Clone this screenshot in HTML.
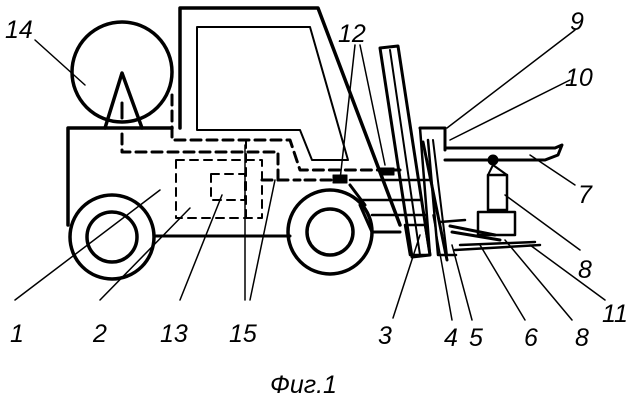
<!DOCTYPE html>
<html><head><meta charset="utf-8"><style>
html,body{margin:0;padding:0;background:#fff}
svg{display:block}
text{font-family:"Liberation Sans",sans-serif;font-style:italic;font-size:25px;fill:#000}
</style></head><body>
<svg width="630" height="401" viewBox="0 0 630 401" xmlns="http://www.w3.org/2000/svg">
<g fill="none" stroke="#000" stroke-linecap="round" stroke-linejoin="round">
<path d="M68 225 V128 H172" stroke-width="3.5"/>
<path d="M180 128 V8 H318 L400 225" stroke-width="3.5"/>
<path d="M197 130 V27 H310 L348 160 H312 L300 130 Z" stroke-width="2"/>
<path d="M155 236 H290" stroke-width="3"/>
<path d="M360 205 L372 232 H400" stroke-width="3"/>
<circle cx="122" cy="72" r="50" stroke-width="3.5"/>
<path d="M105 128 L122 73 L142 128" stroke-width="3.5"/>
<path d="M122 103 V118" stroke-width="3"/>
<circle cx="112" cy="237" r="42" stroke-width="3.5"/>
<circle cx="112" cy="237" r="25" stroke-width="3.5"/>
<circle cx="330" cy="232" r="42" stroke-width="3.5"/>
<circle cx="330" cy="232" r="23" stroke-width="3.5"/>
<g stroke-width="3" stroke-dasharray="10 6">
<path d="M172 95 V140 H290 L300 170 H400"/>
<path d="M122 134 V152 H278 V180"/>
<path d="M262 180 H300 M305 180 H340"/>
</g>
<g stroke-width="2" stroke-dasharray="8 6">
<rect x="176" y="160" width="86" height="58"/>
<rect x="211" y="174" width="34" height="26"/>
<path d="M246 140 V218"/>
</g>
<rect x="333" y="175" width="14" height="8" fill="#000"/>
<rect x="380" y="168" width="14" height="7" fill="#000"/>
<path d="M350 185 L365 205" stroke-width="3"/>
<path d="M380 48 L398 46 L430 255 L412 257 Z" stroke-width="3"/>
<path d="M390 50 L420 255" stroke-width="2"/>
<path d="M350 180 H430 M360 200 H420 M372 215 H425" stroke-width="2.5"/>
<path d="M405 225 H425 L430 255 H410 Z" stroke-width="2.5"/>
<path d="M420 128 H445 V150 M423 142 L447 260" stroke-width="3"/>
<path d="M428 140 L438 255 H456" stroke-width="2.5"/>
<path d="M433 140 L447 255" stroke-width="2"/>
<path d="M420 128 L430 255" stroke-width="2.5"/>
<path d="M445 148 H555 L562 145 L558 155 L545 160 H445" stroke-width="3"/>
<circle cx="493" cy="160" r="5" fill="#000"/>
<path d="M488 175 V210 H507 V175 Z" stroke-width="2.5"/>
<path d="M488 175 L493 165 L507 175" stroke-width="2"/>
<path d="M478 212 H515 V235 H478 Z" stroke-width="2.5"/>
<path d="M450 226 L495 235 M452 232 L500 240" stroke-width="3"/>
<path d="M455 250 L540 245 M460 245 L535 242" stroke-width="2.5"/>
<path d="M440 222 L465 220" stroke-width="2.5"/>
<g stroke-width="1.5">
<path d="M35 40 L85 85"/>
<path d="M355 45 L340 180 M360 45 L385 165"/>
<path d="M575 30 L447 128"/>
<path d="M570 80 L450 140"/>
<path d="M575 185 L530 155"/>
<path d="M580 250 L505 195"/>
<path d="M605 300 L530 245"/>
<path d="M15 300 L160 190"/>
<path d="M100 300 L190 208"/>
<path d="M180 300 L222 195"/>
<path d="M245 300 L245 145 M250 300 L275 180"/>
<path d="M393 318 L420 235"/>
<path d="M452 320 L433 215"/>
<path d="M472 320 L452 245"/>
<path d="M525 320 L480 245"/>
<path d="M572 320 L505 240"/>
</g>
</g>
<text x="5" y="38">14</text>
<text x="338" y="42">12</text>
<text x="570" y="30">9</text>
<text x="565" y="86">10</text>
<text x="578" y="203">7</text>
<text x="578" y="278">8</text>
<text x="602" y="322">11</text>
<text x="10" y="342">1</text>
<text x="93" y="342">2</text>
<text x="160" y="342">13</text>
<text x="229" y="342">15</text>
<text x="378" y="344">3</text>
<text x="444" y="346">4</text>
<text x="469" y="346">5</text>
<text x="524" y="346">6</text>
<text x="575" y="346">8</text>
<text x="270" y="393">Фиг.1</text>
</svg>
</body></html>
